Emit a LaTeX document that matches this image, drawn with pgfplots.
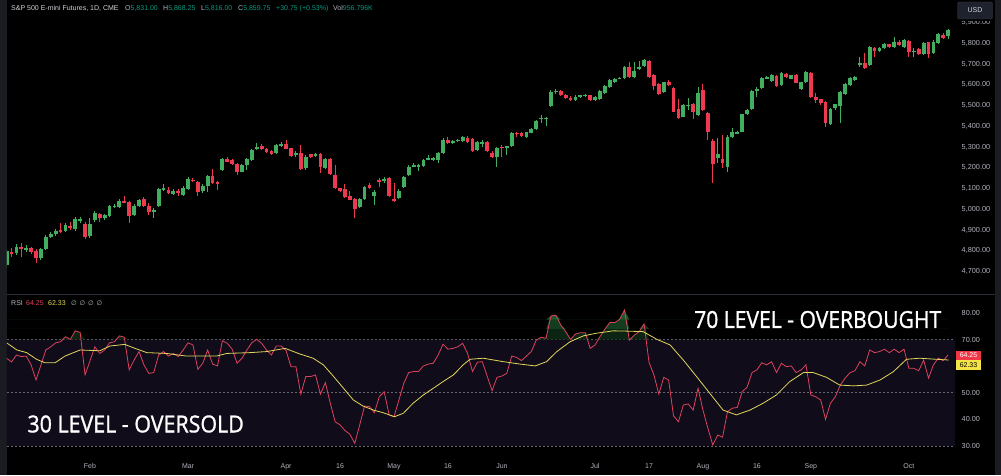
\documentclass[border=0pt]{standalone}
\usepackage{fontspec}
\setmainfont{Liberation Sans}
\newfontfamily\bigfont[FakeBold=1.2]{Open Sans}
\newfontfamily\symfont{DejaVu Sans}
\usepackage{pgfplots}
\pgfplotsset{compat=1.18}
\usepackage{pgfplotstable}

\definecolor{upc}{RGB}{66,174,96}
\definecolor{dnc}{RGB}{238,58,80}
\definecolor{axtxt}{RGB}{178,181,190}
\definecolor{hdr}{RGB}{209,212,220}
\definecolor{tvgreen}{RGB}{8,153,129}
\definecolor{band}{RGB}{16,12,26}
\definecolor{rsic}{RGB}{222,66,92}
\definecolor{mac}{RGB}{226,214,92}
\definecolor{strip}{RGB}{26,28,34}
\definecolor{sepc}{RGB}{42,46,57}
\definecolor{lvl}{RGB}{100,102,112}
\definecolor{usdbox}{RGB}{30,34,45}
\definecolor{usdedge}{RGB}{54,58,70}
\definecolor{redbox}{RGB}{242,54,69}
\definecolor{yelbox}{RGB}{245,230,70}
\definecolor{gf1}{RGB}{12,36,19}
\definecolor{gf2}{RGB}{20,60,31}
\definecolor{gf3}{RGB}{30,86,44}

\pgfplotstableread{
k o h l c
0 4729 4806 4714 4796
1 4793 4809 4769 4785
2 4785 4830 4777 4817
3 4817 4833 4769 4808
4 4805 4825 4793 4811
5 4809 4818 4782 4792
6 4796 4804 4740 4764
7 4761 4813 4753 4806
8 4805 4874 4799 4865
9 4865 4888 4857 4878
10 4877 4902 4869 4893
11 4898 4930 4883 4889
12 4894 4929 4888 4920
13 4917 4938 4898 4907
14 4902 4958 4895 4951
15 4942 4962 4930 4949
16 4926 4934 4854 4862
17 4869 4954 4861 4926
18 4946 4991 4938 4978
19 4973 4981 4938 4955
20 4954 4977 4946 4970
21 4966 5020 4960 5013
22 5010 5025 5004 5015
23 5010 5047 5004 5039
24 5037 5062 5026 5031
25 5031 5037 4933 4965
26 4970 5023 4963 5015
27 5013 5049 5008 5042
28 5047 5057 5008 5013
29 5013 5026 4970 4986
30 4984 5004 4954 4994
31 5013 5100 5008 5094
32 5090 5118 5086 5099
33 5090 5103 5069 5075
34 5073 5093 5066 5086
35 5087 5095 5063 5075
36 5066 5110 5062 5102
37 5095 5151 5090 5143
38 5139 5150 5130 5134
39 5130 5136 5063 5081
40 5086 5117 5078 5110
41 5110 5165 5082 5159
42 5159 5190 5119 5126
43 5129 5134 5090 5118
44 5187 5247 5182 5240
45 5238 5248 5224 5227
46 5235 5240 5211 5214
47 5214 5220 5165 5177
48 5179 5216 5175 5211
49 5211 5247 5187 5240
50 5235 5290 5230 5283
51 5289 5315 5283 5299
52 5304 5310 5281 5288
53 5288 5293 5271 5275
54 5278 5283 5257 5262
55 5270 5312 5266 5307
56 5306 5320 5299 5312
57 5312 5331 5286 5289
58 5291 5295 5249 5256
59 5262 5280 5251 5267
60 5267 5307 5189 5193
61 5195 5257 5189 5251
62 5262 5266 5247 5251
63 5258 5269 5249 5262
64 5264 5269 5174 5203
65 5198 5245 5194 5240
66 5241 5247 5163 5166
67 5163 5211 5095 5099
68 5099 5102 5083 5087
69 5094 5119 5052 5055
70 5062 5086 5040 5044
71 5046 5052 4954 4997
72 5007 5052 5004 5046
73 5046 5110 5042 5103
74 5115 5126 5095 5100
75 5063 5090 5018 5082
76 5139 5147 5103 5130
77 5135 5152 5123 5143
78 5147 5153 5057 5062
79 5049 5123 5034 5039
80 5050 5093 5047 5087
81 5106 5158 5102 5152
82 5163 5209 5158 5203
83 5206 5222 5203 5211
84 5205 5216 5183 5209
85 5206 5240 5201 5235
86 5238 5259 5235 5243
87 5238 5249 5230 5243
88 5235 5274 5219 5267
89 5267 5339 5264 5331
90 5331 5347 5312 5315
91 5315 5331 5310 5325
92 5328 5336 5324 5331
93 5328 5351 5324 5344
94 5340 5351 5319 5323
95 5336 5341 5276 5280
96 5283 5327 5278 5320
97 5315 5331 5299 5323
98 5323 5329 5276 5280
99 5270 5276 5245 5248
100 5248 5300 5203 5294
101 5299 5307 5251 5293
102 5296 5304 5259 5304
103 5302 5370 5300 5364
104 5366 5371 5347 5360
105 5364 5368 5346 5351
106 5347 5372 5343 5368
107 5367 5389 5363 5383
108 5383 5430 5380 5424
109 5434 5452 5412 5439
110 5434 5444 5399 5439
111 5495 5572 5490 5563
112 5563 5577 5553 5568
113 5568 5572 5543 5548
114 5548 5553 5531 5536
115 5536 5541 5519 5524
116 5524 5548 5519 5541
117 5541 5550 5536 5546
118 5545 5553 5539 5547
119 5546 5550 5519 5524
120 5524 5542 5518 5539
121 5529 5572 5524 5568
122 5559 5596 5555 5592
123 5588 5625 5584 5620
124 5611 5630 5606 5625
125 5627 5637 5623 5632
126 5629 5690 5625 5685
127 5685 5709 5632 5636
128 5636 5709 5632 5665
129 5677 5714 5669 5682
130 5688 5722 5683 5717
131 5714 5719 5632 5636
132 5643 5649 5572 5592
133 5601 5606 5548 5552
134 5564 5613 5560 5609
135 5609 5621 5592 5596
136 5583 5589 5464 5468
137 5481 5529 5432 5436
138 5444 5505 5440 5500
139 5495 5532 5476 5501
140 5505 5510 5431 5466
141 5452 5587 5447 5556
142 5572 5601 5471 5476
143 5463 5466 5331 5371
144 5328 5336 5123 5214
145 5246 5340 5219 5264
146 5238 5355 5195 5222
147 5203 5355 5179 5347
148 5344 5388 5341 5368
149 5364 5377 5360 5371
150 5370 5459 5368 5455
151 5455 5481 5452 5476
152 5479 5572 5476 5568
153 5569 5588 5540 5577
154 5581 5635 5577 5629
155 5629 5640 5623 5634
156 5616 5649 5611 5645
157 5641 5647 5587 5592
158 5596 5659 5592 5653
159 5649 5654 5629 5634
160 5627 5647 5623 5643
161 5645 5649 5604 5608
162 5577 5613 5572 5609
163 5612 5666 5608 5661
164 5656 5661 5536 5540
165 5540 5556 5508 5524
166 5528 5531 5502 5508
167 5515 5519 5393 5415
168 5408 5486 5404 5481
169 5487 5507 5476 5503
170 5497 5568 5412 5561
171 5553 5606 5548 5601
172 5596 5637 5592 5632
173 5621 5642 5616 5636
174 5696 5733 5685 5702
175 5701 5752 5674 5677
176 5693 5784 5688 5778
177 5775 5780 5733 5760
178 5760 5782 5755 5776
179 5773 5799 5770 5794
180 5792 5796 5775 5778
181 5781 5829 5777 5805
182 5805 5811 5784 5789
183 5781 5818 5777 5813
184 5808 5813 5730 5757
185 5755 5773 5733 5762
186 5770 5775 5741 5746
187 5744 5806 5741 5800
188 5802 5806 5727 5744
189 5749 5811 5746 5805
190 5797 5847 5794 5841
191 5839 5845 5818 5821
192 5831 5868.25 5816 5859.75
}\candles

\pgfplotstableread{
k v
0 63.0
1 61.6
2 64.2
3 63.6
4 63.8
5 60.5
6 54.8
8 66.1
9 67.3
10 68.8
11 69.2
12 71.1
13 70.1
14 73.3
15 72.7
16 56.7
18 67.3
19 64.8
20 66.1
21 68.8
22 69.2
23 71.4
24 70.9
25 58.6
26 62.3
27 65.5
28 60.5
29 57.3
30 57.6
31 64.2
32 65.5
33 63.8
34 64.8
35 63.6
36 66.1
37 68.8
38 68.0
39 58.8
40 61.1
41 66.1
42 60.8
43 60.1
44 69.6
45 68.6
46 66.4
47 61.1
48 63.0
49 66.1
50 68.8
51 70.1
52 68.6
53 66.1
54 64.2
55 67.6
56 67.6
57 65.8
58 59.8
59 59.8
60 49.5
61 56.1
62 56.1
63 56.7
64 49.5
65 53.8
66 46.1
67 39.1
68 37.9
69 35.8
70 34.4
71 31.0
72 37.9
73 45.0
74 44.8
75 42.5
76 48.5
77 50.4
78 41.7
79 41.0
80 47.3
81 53.6
82 57.6
83 58.0
84 58.0
85 60.1
86 60.8
87 61.1
88 64.2
89 68.3
90 66.4
91 66.7
92 67.3
93 68.6
94 64.8
95 58.0
96 61.5
97 61.7
99 50.8
100 55.8
101 56.3
102 57.3
103 63.8
104 63.3
105 62.1
106 63.8
107 65.5
108 69.8
109 70.9
110 70.5
111 78.9
112 79.2
113 75.5
114 73.0
115 70.1
116 72.1
117 72.6
118 72.6
119 66.7
120 68.0
121 71.1
122 73.9
123 76.4
124 76.4
125 77.6
126 81.1
127 69.8
128 71.7
129 73.0
130 75.9
131 61.5
132 56.7
133 49.5
134 55.8
135 54.8
136 41.3
137 39.1
138 45.4
139 45.8
140 43.5
141 51.7
142 43.5
143 36.7
144 30.4
145 34.1
146 33.3
147 42.9
148 44.2
149 44.5
150 50.4
151 52.1
152 57.6
153 58.6
154 61.3
155 60.5
156 61.7
157 57.6
158 61.1
159 59.8
160 60.1
161 57.6
162 58.6
163 60.5
164 49.2
165 48.5
166 47.3
167 40.0
168 46.1
169 48.5
170 52.9
171 55.5
172 57.6
173 58.3
174 61.7
175 60.1
176 66.1
177 65.1
178 65.5
179 66.4
180 65.1
181 66.4
182 65.1
183 66.4
184 59.2
185 59.2
186 58.3
187 62.3
188 55.5
189 60.5
190 63.0
191 62.1
192 64.25
}\rsi

\pgfplotstableread{
k v
0.0 68.8
2.1 66.1
4.1 65.1
6.1 62.6
7.8 61.3
9.9 61.3
11.9 63.8
15.0 66.1
19.0 65.8
21.1 67.6
24.1 68.2
26.2 66.7
28.6 65.1
32.6 64.8
36.7 63.8
42.8 63.8
44.9 64.8
49.6 65.1
53.0 65.5
56.8 66.7
59.8 64.6
62.5 63.0
64.6 60.5
66.6 56.3
68.7 51.7
70.7 47.3
72.7 45.0
74.8 43.5
76.8 42.5
79.1 41.0
80.9 42.3
82.9 46.1
85.0 49.2
87.0 51.7
89.0 54.2
91.1 56.7
93.1 60.5
94.5 62.6
97.2 63.0
101.3 61.7
104.7 60.8
107.8 60.1
110.1 61.7
112.2 65.5
114.9 69.2
117.6 71.4
120.3 72.4
123.7 73.3
126.4 73.2
129.8 73.0
132.6 70.1
135.3 68.0
138.0 62.3
140.7 56.1
143.4 49.8
146.1 43.5
148.8 41.7
151.6 43.5
154.3 46.1
157.0 49.2
159.7 54.2
162.5 57.6
164.5 57.6
167.2 55.8
169.9 52.9
172.7 52.6
175.4 52.9
178.1 54.8
180.8 57.9
183.5 62.6
186.2 63.0
189.6 62.6
192.1 62.33
}\rsima

\begin{document}
\begin{tikzpicture}[x=1pt,y=1pt]
\fill[black] (0,0) rectangle (1001,475);
\fill[strip] (0,0) rectangle (6.7,475);
\fill[strip] (995,0) rectangle (1001,475);
\draw[sepc, line width=1pt] (6.7,180.5) -- (995,180.5);

% ---------------- price panel ----------------
\begin{axis}[at={(7pt,181pt)}, anchor=south west, scale only axis,
  width=948pt, height=294pt,
  xmin=0.08, xmax=193.4, ymin=4589.2, ymax=6006,
  axis line style={draw=none}, tick style={draw=none},
  xtick=\empty,
  ytick={4700,4800,...,5900},
  scaled y ticks=false,
  yticklabel pos=right,
  yticklabel style={anchor=base west, xshift=3.2pt, yshift=-2.6pt,
    font=\fontsize{7.3}{8}\selectfont, text=axtxt,
    /pgf/number format/.cd, fixed, fixed zerofill, precision=2, 1000 sep={,}, assume math mode=true}]
% wicks
\addplot[forget plot, draw=none, mark=none,
  x filter/.expression={\thisrow{c}<\thisrow{o} ? nan : x},
  error bars/.cd, y dir=both, y explicit, error mark=none,
  error bar style={draw=upc, line width=1pt}]
  table[x=k, y expr={(\thisrow{h}+\thisrow{l})/2}, y error expr={(\thisrow{h}-\thisrow{l})/2}] {\candles};
\addplot[forget plot, draw=none, mark=none,
  x filter/.expression={\thisrow{c}<\thisrow{o} ? x : nan},
  error bars/.cd, y dir=both, y explicit, error mark=none,
  error bar style={draw=dnc, line width=1pt}]
  table[x=k, y expr={(\thisrow{h}+\thisrow{l})/2}, y error expr={(\thisrow{h}-\thisrow{l})/2}] {\candles};
% bodies
\addplot[forget plot, draw=none, mark=none,
  x filter/.expression={\thisrow{c}<\thisrow{o} ? nan : x},
  error bars/.cd, y dir=both, y explicit, error mark=none,
  error bar style={draw=upc, line width=3.8pt}]
  table[x=k, y expr={(\thisrow{o}+\thisrow{c})/2}, y error expr={max(abs(\thisrow{c}-\thisrow{o})/2,2.4)}] {\candles};
\addplot[forget plot, draw=none, mark=none,
  x filter/.expression={\thisrow{c}<\thisrow{o} ? x : nan},
  error bars/.cd, y dir=both, y explicit, error mark=none,
  error bar style={draw=dnc, line width=3.8pt}]
  table[x=k, y expr={(\thisrow{o}+\thisrow{c})/2}, y error expr={max(abs(\thisrow{c}-\thisrow{o})/2,2.4)}] {\candles};
\end{axis}

% ---------------- RSI panel ----------------
\begin{axis}[at={(7pt,20pt)}, anchor=south west, scale only axis,
  width=948pt, height=159pt,
  xmin=0.08, xmax=193.4, ymin=26.6, ymax=86.4,
  axis line style={draw=none}, tick style={draw=none},
  xtick={17,37,57,68,79,90,101,120,131,142,153,164,184},
  xticklabels={Feb,Mar,Apr,16,May,16,Jun,Jul,17,Aug,16,Sep,Oct},
  xticklabel style={anchor=base, yshift=-13.5pt, font=\fontsize{7}{8}\selectfont, text=axtxt},
  ytick={30,40,50,70,80},
  yticklabel pos=right,
  yticklabel style={anchor=base west, xshift=3.2pt, yshift=-2.6pt,
    font=\fontsize{7.3}{8}\selectfont, text=axtxt,
    /pgf/number format/.cd, fixed, fixed zerofill, precision=2, assume math mode=true}]
\addplot[forget plot, draw=none, fill=band] coordinates {(0.08,30) (193.4,30) (193.4,70) (0.08,70) (0.08,30)};
\addplot[forget plot, lvl, line width=0.7pt, dash pattern=on 2pt off 2pt] coordinates {(0.08,70) (193.4,70)};
\addplot[forget plot, lvl, line width=0.7pt, dash pattern=on 2pt off 2pt] coordinates {(0.08,50) (193.4,50)};
\addplot[forget plot, lvl, line width=0.7pt, dash pattern=on 2pt off 2pt] coordinates {(0.08,30) (193.4,30)};
% overbought fill (stepped gradient)
\addplot[forget plot, draw=none, fill=gf1] table[x=k, y expr={max(\thisrow{v},70)}] {\rsi} -- (axis cs:192,70) -- (axis cs:0,70) -- cycle;
\addplot[forget plot, draw=none, fill=gf2] table[x=k, y expr={max(\thisrow{v},74)}] {\rsi} -- (axis cs:192,74) -- (axis cs:0,74) -- cycle;
\addplot[forget plot, draw=none, fill=gf3] table[x=k, y expr={max(\thisrow{v},77.5)}] {\rsi} -- (axis cs:192,77.5) -- (axis cs:0,77.5) -- cycle;
\addplot[forget plot, rsic, line width=0.8pt] table[x=k, y=v] {\rsi};
\addplot[forget plot, mac, line width=0.8pt] table[x=k, y=v] {\rsima};
\end{axis}

% ---------------- header texts ----------------
\begin{scope}[every node/.style={inner sep=0pt, anchor=base west, font=\fontsize{7}{8}\selectfont}]
\node[text=hdr] at (11,464.2) {S\&P 500 E-mini Futures, 1D, CME};
\node at (125,464.2) {\textcolor{axtxt}{O}\textcolor{tvgreen}{5,831.00}};
\node at (163,464.2) {\textcolor{axtxt}{H}\textcolor{tvgreen}{5,868.25}};
\node at (201,464.2) {\textcolor{axtxt}{L}\textcolor{tvgreen}{5,816.00}};
\node at (238,464.2) {\textcolor{axtxt}{C}\textcolor{tvgreen}{5,859.75}};
\node at (276,464.2) {\textcolor{tvgreen}{+30.75 (+0.53\%)}};
\node at (333,464.2) {\textcolor{axtxt}{Vol}\textcolor{tvgreen}{956.796K}};
\node[text=axtxt] at (11,169.8) {RSI};
\node[text=rsic] at (26,169.8) {64.25};
\node[text=mac] at (48,169.8) {62.33};
\node[text=axtxt, font=\symfont\fontsize{6.5}{8}\selectfont] at (71,169.8) {∅};
\node[text=axtxt, font=\symfont\fontsize{6.5}{8}\selectfont] at (79.5,169.8) {∅};
\node[text=axtxt, font=\symfont\fontsize{6.5}{8}\selectfont] at (88,169.8) {∅};
\node[text=axtxt, font=\symfont\fontsize{6.5}{8}\selectfont] at (96.5,169.8) {∅};
\end{scope}

% USD box and RSI value boxes
\fill[black] (956,453.5) rectangle (994.5,475);
\node[fill=usdbox, draw=usdedge, rounded corners=2pt, minimum width=35pt, minimum height=17pt,
  inner sep=0pt, text=hdr, font=\fontsize{7}{8}\selectfont] at (975,464.5) {USD};
\node[fill=redbox, minimum width=25pt, minimum height=9pt, inner sep=0pt, text=white,
  font=\fontsize{7}{8}\selectfont] at (968.5,119.5) {64.25};
\node[fill=yelbox, minimum width=25pt, minimum height=10pt, inner sep=0pt, text=black,
  font=\fontsize{7}{8}\selectfont] at (968.5,110) {62.33};

% big annotations
\node[anchor=west, inner sep=0pt, text=white, xscale=0.902,
  font=\bigfont\fontsize{23.4}{24}\selectfont] at (694,155.5) {70 LEVEL - OVERBOUGHT};
\node[anchor=west, inner sep=0pt, text=white, xscale=0.915,
  font=\bigfont\fontsize{23.4}{24}\selectfont] at (27.3,51) {30 LEVEL - OVERSOLD};
\pgfresetboundingbox
\useasboundingbox (0,0) rectangle (1001,475);
\end{tikzpicture}
\end{document}
